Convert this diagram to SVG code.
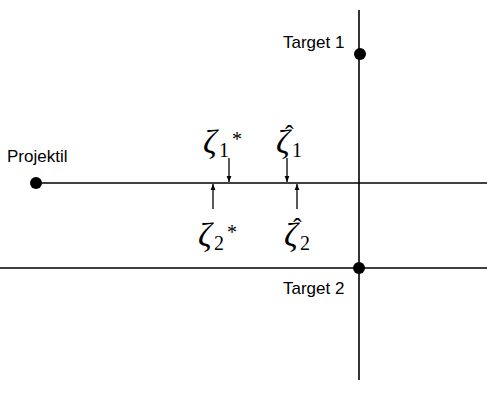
<svg xmlns="http://www.w3.org/2000/svg" width="487" height="396" viewBox="0 0 487 396">
<style>
.ln{stroke:#000;stroke-width:1.6;fill:none}
.ar{stroke:#000;stroke-width:1.3;fill:none}
.lbl{font-family:"Liberation Sans",Arial,sans-serif;font-size:17px;fill:#000}
.z{font-family:"Liberation Serif","DejaVu Serif",serif;font-style:italic;font-size:34px;fill:#000}
.s{font-style:normal;font-size:20px}
.h{font-style:normal;font-size:26px}
</style>
<defs>
<marker id="ah" viewBox="0 0 10 10" refX="10" refY="5" markerWidth="6" markerHeight="6" orient="auto" markerUnits="userSpaceOnUse">
<path d="M0,1 L10,5 L0,9 Z" fill="#000"/>
</marker>
</defs>
<g id="connectors">
<line class="ln" x1="36" y1="183" x2="487" y2="183"/>
<line class="ln" x1="0" y1="268" x2="487" y2="268"/>
<line class="ln" x1="359" y1="10" x2="359" y2="380"/>
<line class="ar" x1="229" y1="158" x2="229" y2="182" marker-end="url(#ah)"/>
<line class="ar" x1="287" y1="158" x2="287" y2="182" marker-end="url(#ah)"/>
<line class="ar" x1="213" y1="209" x2="213" y2="184" marker-end="url(#ah)"/>
<line class="ar" x1="297" y1="209" x2="297" y2="184" marker-end="url(#ah)"/>
</g>
<g id="projektil">
<circle cx="36" cy="183" r="6" fill="#000"/>
<text class="lbl" x="7" y="162">Projektil</text>
</g>
<g id="target1">
<circle cx="360" cy="54" r="6" fill="#000"/>
<text class="lbl" x="283" y="48">Target 1</text>
</g>
<g id="target2">
<circle cx="359" cy="268" r="6" fill="#000"/>
<text class="lbl" x="283" y="294">Target 2</text>
</g>
<g id="zeta1star">
<text class="z" x="203" y="153">ζ<tspan class="s" x="219" y="157">1</tspan><tspan class="s" x="232" y="146">*</tspan></text>
</g>
<g id="zeta1hat">
<text class="z" x="276" y="153">ζ<tspan class="h" x="285" y="143">ˆ</tspan><tspan class="s" x="292" y="157">1</tspan></text>
</g>
<g id="zeta2star">
<text class="z" x="198" y="246">ζ<tspan class="s" x="214" y="250">2</tspan><tspan class="s" x="227" y="239">*</tspan></text>
</g>
<g id="zeta2hat">
<text class="z" x="284" y="246">ζ<tspan class="h" x="293" y="236">ˆ</tspan><tspan class="s" x="300" y="250">2</tspan></text>
</g>
</svg>
